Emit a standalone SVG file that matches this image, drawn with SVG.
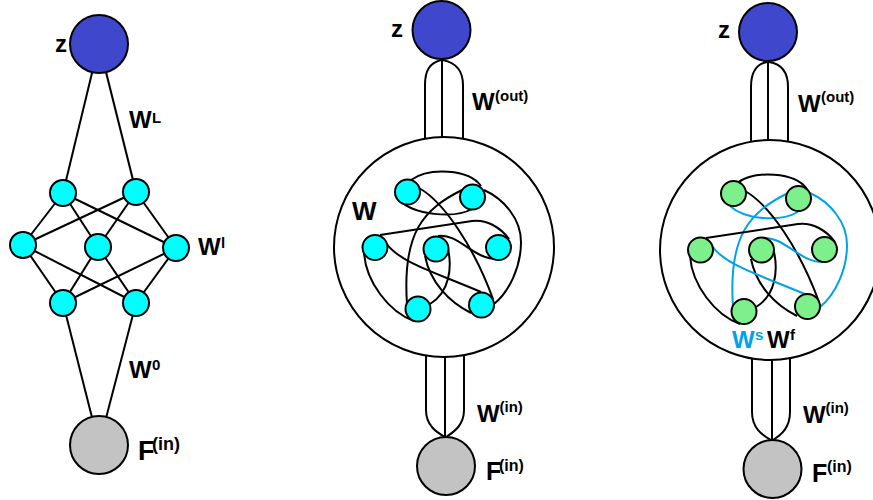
<svg xmlns="http://www.w3.org/2000/svg" width="873" height="500" viewBox="0 0 873 500">
<style>
.ln{fill:none;stroke:#000;stroke-width:2}
.bl{fill:none;stroke:#00a2e8;stroke-width:2}
.out{fill:#3f48cc;stroke:#000;stroke-width:2}
.inp{fill:#c3c3c3;stroke:#000;stroke-width:2}
.cy{fill:#00ffff;stroke:#000;stroke-width:2}
.gr{fill:#7df08c;stroke:#000;stroke-width:2}
.big{fill:none;stroke:#000;stroke-width:2}
text{font-family:"Liberation Sans",Arial,sans-serif;font-weight:bold;fill:#000}
.lab{font-size:24px}
.sup{font-size:15px}
</style>
<rect width="873" height="500" fill="#fff"/>

<!-- connectors -->
<g id="connectors">
  <!-- left panel -->
  <g class="ln">
    <line x1="99" y1="44" x2="63" y2="193"/>
    <line x1="99" y1="44" x2="136" y2="192"/>
    <line x1="63" y1="193" x2="23" y2="245"/>
    <line x1="63" y1="193" x2="98" y2="247"/>
    <line x1="63" y1="193" x2="176" y2="248"/>
    <line x1="136" y1="192" x2="23" y2="245"/>
    <line x1="136" y1="192" x2="98" y2="247"/>
    <line x1="136" y1="192" x2="176" y2="248"/>
    <line x1="23" y1="245" x2="63" y2="303"/>
    <line x1="23" y1="245" x2="136" y2="303"/>
    <line x1="98" y1="247" x2="63" y2="303"/>
    <line x1="98" y1="247" x2="136" y2="303"/>
    <line x1="176" y1="248" x2="63" y2="303"/>
    <line x1="176" y1="248" x2="136" y2="303"/>
    <line x1="63" y1="303" x2="99" y2="445"/>
    <line x1="136" y1="303" x2="99" y2="445"/>
  </g>
  <!-- middle panel stems -->
  <g class="ln">
    <path d="M442 59 L442 138"/>
    <path d="M441 60 C430 63 425 70 425 85 L425 139"/>
    <path d="M443 60 C456 63 463 70 463 85 L463 139"/>
    <path d="M445 357 L445 437"/>
    <path d="M426 355 L426 410 C426 425 436 432 445 437"/>
    <path d="M464 355 L464 410 C464 425 454 432 446 437"/>
  </g>
  <!-- right panel stems -->
  <g class="ln">
    <path d="M768 61 L768 140"/>
    <path d="M767 62 C756 64 751 72 751 87 L751 142"/>
    <path d="M769 62 C782 64 788 72 788 87 L788 142"/>
    <path d="M772 360 L772 440"/>
    <path d="M752 358 L752 412 C752 428 762 435 771 440"/>
    <path d="M790 358 L790 412 C790 428 781 435 773 440"/>
  </g>
  <!-- middle panel recurrent connections -->
  <g transform="translate(444,247)" class="ln">
    <path d="M-33 -67 C-15 -80 25 -78 37 -61"/>
    <path d="M-45 -47 C-30 -32 10 -28 28 -38"/>
    <path d="M-25 -59 C0 -45 30 0 49 52"/>
    <path d="M18 -57 C-20 -38 -42 -15 -37 57"/>
    <path d="M-64 -12 L28 -26 C42 -28 56 -20 65 -8"/>
    <path d="M-80 6 C-78 35 -55 65 -30 74"/>
    <path d="M4 2 C8 20 6 45 -14 57"/>
    <path d="M-19 9 C-14 35 5 55 27 66"/>
    <path d="M-58 -4 C-45 15 -10 25 37 45"/>
    <path d="M-6 -11 C15 -14 28 12 53 12"/>
    <path d="M40 -57 C60 -48 77 -28 77 -5 C77 20 65 45 50 57"/>
  </g>
  <!-- right panel connections -->
  <g transform="translate(770,250)">
    <path class="ln" d="M-33 -67 C-15 -80 25 -78 37 -61"/>
    <path class="bl" d="M-40 -44 C-25 -30 10 -28 28 -38"/>
    <path class="ln" d="M-25 -59 C0 -45 30 0 49 52"/>
    <path class="bl" d="M18 -57 C-20 -38 -42 -15 -37 57"/>
    <path class="ln" d="M-64 -12 L28 -26 C42 -28 56 -20 65 -8"/>
    <path class="ln" d="M-80 6 C-78 35 -55 65 -30 74"/>
    <path class="ln" d="M4 2 C8 20 6 45 -14 57"/>
    <path class="ln" d="M-19 9 C-14 35 5 55 27 66"/>
    <path class="bl" d="M-58 -4 C-45 15 -10 25 37 45"/>
    <path class="bl" d="M-8 -12 C15 -14 28 12 53 12"/>
    <path class="bl" d="M40 -57 C60 -48 77 -28 77 -5 C77 20 65 45 50 57"/>
  </g>
</g>

<!-- left panel nodes -->
<g id="left-z"><circle class="out" cx="99" cy="44" r="29"/><text class="lab" x="55" y="52">z</text></g>
<g id="left-h1a"><circle class="cy" cx="63" cy="193" r="13"/></g>
<g id="left-h1b"><circle class="cy" cx="136" cy="192" r="13"/></g>
<g id="left-h2a"><circle class="cy" cx="23" cy="245" r="13"/></g>
<g id="left-h2b"><circle class="cy" cx="98" cy="247" r="13"/></g>
<g id="left-h2c"><circle class="cy" cx="176" cy="248" r="13"/></g>
<g id="left-h3a"><circle class="cy" cx="63" cy="303" r="13"/></g>
<g id="left-h3b"><circle class="cy" cx="136" cy="303" r="13"/></g>
<g id="left-f"><circle class="inp" cx="99" cy="445" r="29"/></g>
<g id="left-labels">
  <text class="lab" x="129" y="128">W<tspan class="sup" x="152" y="123">L</tspan></text>
  <text class="lab" x="198" y="255">W<tspan class="sup" x="221" y="248">l</tspan></text>
  <text class="lab" x="129" y="378">W<tspan class="sup" x="152" y="370">0</tspan></text>
  <text x="138" y="460" style="font-size:27px">F<tspan x="152" y="450" style="font-size:18px">(in)</tspan></text>
</g>

<!-- middle panel -->
<g id="mid-z"><circle class="out" cx="441.5" cy="30" r="29"/><text class="lab" x="391" y="37">z</text></g>
<g id="mid-reservoir"><circle class="big" cx="444" cy="247" r="110"/><text x="352" y="220" style="font-size:26px">W</text></g>
<g id="mid-nodes" transform="translate(444,247)">
  <circle class="cy" cx="-36.5" cy="-55" r="12.5"/>
  <circle class="cy" cx="28.5" cy="-50" r="12.5"/>
  <circle class="cy" cx="-69" cy="0.5" r="12.5"/>
  <circle class="cy" cx="-8" cy="2" r="12.5"/>
  <circle class="cy" cx="54.5" cy="0.5" r="12.5"/>
  <circle class="cy" cx="-26" cy="62" r="12.5"/>
  <circle class="cy" cx="37.5" cy="58" r="12.5"/>
</g>
<g id="mid-f"><circle class="inp" cx="446" cy="466" r="29"/></g>
<g id="mid-labels">
  <text class="lab" x="472" y="110">W<tspan class="sup" x="495" y="101">(out)</tspan></text>
  <text class="lab" x="477" y="422">W<tspan class="sup" x="499.5" y="412">(in)</tspan></text>
  <text x="486" y="480" style="font-size:25px">F<tspan x="499" y="471" style="font-size:16px">(in)</tspan></text>
</g>

<!-- right panel -->
<g id="right-z"><circle class="out" cx="768" cy="32" r="29"/><text class="lab" x="718" y="38">z</text></g>
<g id="right-reservoir"><circle class="big" cx="770" cy="250" r="110"/></g>
<g id="right-nodes" transform="translate(770,250)">
  <circle class="gr" cx="-36.5" cy="-56.5" r="12.5"/>
  <circle class="gr" cx="28.5" cy="-51.5" r="12.5"/>
  <circle class="gr" cx="-69.5" cy="0" r="12.5"/>
  <circle class="gr" cx="-8.5" cy="0" r="12.5"/>
  <circle class="gr" cx="54.5" cy="-0.5" r="12.5"/>
  <circle class="gr" cx="-26" cy="61.5" r="12.5"/>
  <circle class="gr" cx="37.5" cy="56.5" r="12.5"/>
</g>
<g id="right-f"><circle class="inp" cx="772.5" cy="469" r="29"/></g>
<g id="right-labels">
  <text class="lab" x="798" y="112">W<tspan class="sup" x="821" y="102">(out)</tspan></text>
  <text class="lab" x="803" y="423">W<tspan class="sup" x="825.5" y="413">(in)</tspan></text>
  <text x="812" y="482" style="font-size:25px">F<tspan x="827" y="472" style="font-size:16px">(in)</tspan></text>
  <text class="lab" x="732" y="348" style="fill:#00a2e8">W<tspan class="sup" x="755" y="340">s</tspan></text>
  <text class="lab" x="767" y="348">W<tspan class="sup" x="790" y="340">f</tspan></text>
</g>
</svg>
